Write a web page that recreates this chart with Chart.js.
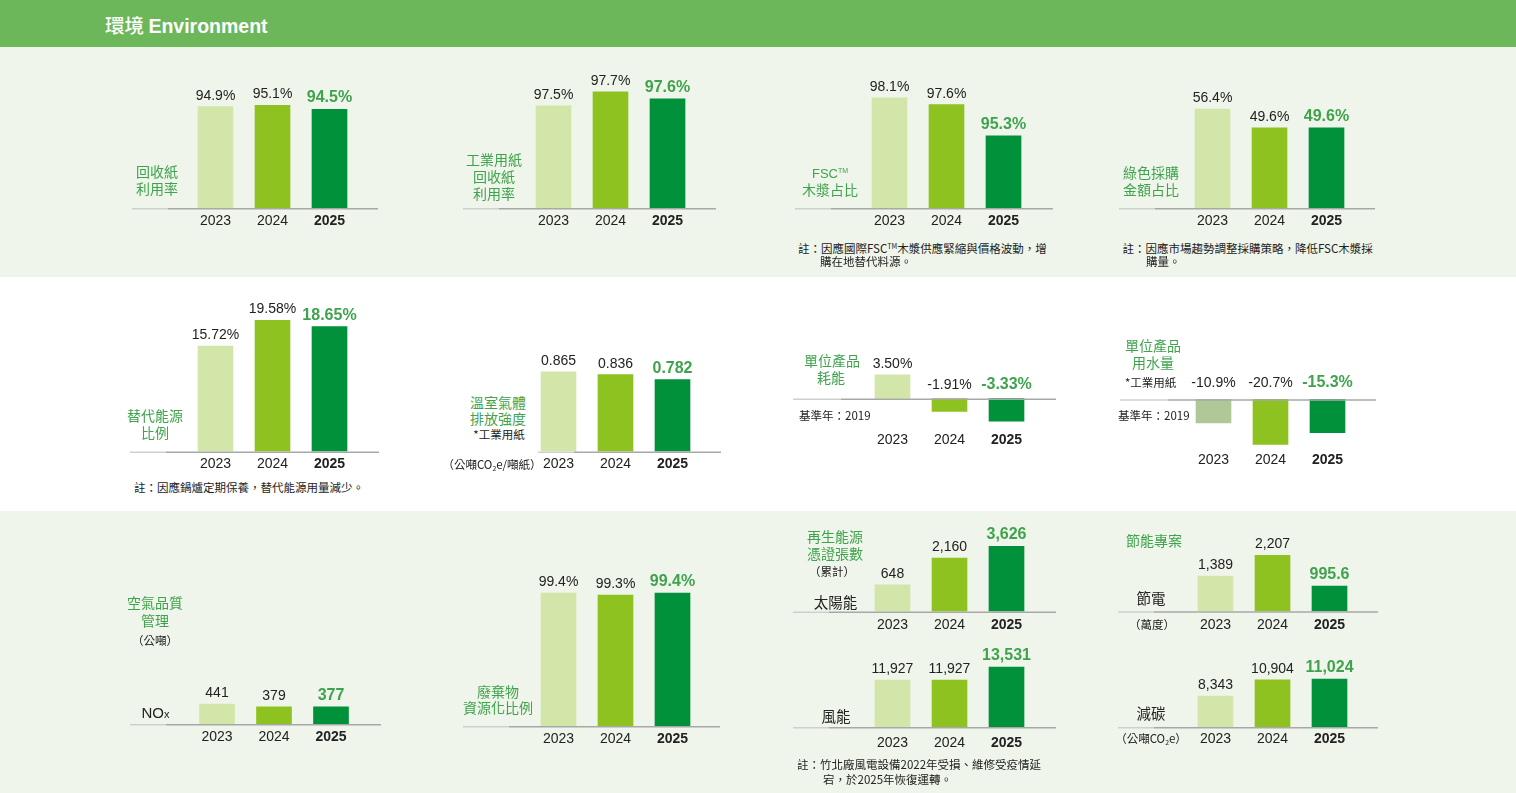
<!DOCTYPE html>
<html><head><meta charset="utf-8">
<script src="https://cdn.jsdelivr.net/npm/chart.js@4.4.1/dist/chart.umd.min.js"></script>
<style>
html,body{margin:0;padding:0;}
body{width:1516px;height:793px;position:relative;overflow:hidden;background:#fff;font-family:"Noto Sans CJK TC","Noto Sans CJK SC","Liberation Sans",sans-serif;}
.band{position:absolute;left:0;width:1516px;}
.t{position:absolute;white-space:nowrap;line-height:1;}
.g{color:#3fa34d;font-size:14px;}
.k{color:#222;}
.s{font-size:11.5px;color:#222;}
.m{font-size:14.5px;color:#222;}
canvas{position:absolute;}
sub{font-size:0.6em;vertical-align:-0.25em;line-height:0;}
</style></head><body>
<div class="band" style="top:0;height:47px;background:#6cb75a"></div>
<div class="band" style="top:47px;height:230px;background:#eff5ea"></div>
<div class="band" style="top:511px;height:282px;background:#eff5ea"></div>
<div class="t" style="left:105px;top:25.5px;transform:translateY(-50%);color:#fff;font-size:19.5px;"><span style="font-weight:500">環境</span> <span style="font-family:'Liberation Sans',Arial,sans-serif;font-weight:bold">Environment</span></div>
<script>
// ---------- data ----------
const years = ['2023', '2024', '2025'];
const recycledPaperRate = [94.9, 95.1, 94.5];
const industrialRecycledRate = [97.5, 97.7, 97.6];
const fscPulpShare = [98.1, 97.6, 95.3];
const greenPurchaseShare = [56.4, 49.6, 49.6];
const altEnergyShare = [15.72, 19.58, 18.65];
const ghgIntensity = [0.865, 0.836, 0.782];
const energyPerUnit = [3.50, -1.91, -3.33];
const waterPerUnit = [-10.9, -20.7, -15.3];
const noxTons = [441, 379, 377];
const wasteRecycleRate = [99.4, 99.3, 99.4];
const solarCerts = [648, 2160, 3626];
const windCerts = [11927, 11927, 13531];
const powerSaved = [1389, 2207, 995.6];
const carbonReduced = [8343, 10904, 11024];

// ---------- style ----------
const NUM = '"Liberation Sans", Arial, Helvetica, sans-serif';
const GREEN_TXT = '#3fa34d';
const BAR = ['#d3e6aa', '#8dc220', '#00913a'];
const BAR_WATER = ['#b0c898', '#8dc220', '#00913a'];

function addChart(spec, values, colors) {
  const step = 57;
  const areaL = spec.c0 - step / 2;
  const areaR = spec.c0 + step * (values.length - 1) + step / 2;
  const left = Math.floor(Math.min(spec.x0, areaL)) - 4;
  const right = Math.ceil(Math.max(spec.x1, areaR)) + 4;
  const W = right - left;
  const p = spec.lab - spec.bottom - 8.4;
  const axisH = 16.8 + 2 * p;
  const top = Math.floor(spec.bottom - spec.areaH - 32);
  const padTop = spec.bottom - spec.areaH - top;
  const H = Math.ceil(padTop + spec.areaH + axisH) + 1;
  const padBottom = H - padTop - spec.areaH - axisH;
  const cv = document.createElement('canvas');
  cv.width = W; cv.height = H;
  cv.style.left = left + 'px'; cv.style.top = top + 'px';
  cv.style.width = W + 'px'; cv.style.height = H + 'px';
  document.body.appendChild(cv);
  const yMin = spec.min;
  const yMax = spec.log ? Math.pow(10, Math.log10(spec.min) + spec.areaH / spec.k)
                        : spec.min + spec.areaH / spec.ppu;
  const fmt = v => v.toLocaleString('en-US', {minimumFractionDigits: spec.dmin, maximumFractionDigits: spec.dmax}) + (spec.suf || '');
  const lx0 = spec.x0 - left, lx1 = spec.x1 - left, light = spec.light ?? 36;
  const axisLine = {
    id: 'axisLine',
    afterDatasetsDraw(chart) {
      const ys = chart.scales.y;
      const py = (ys.min < 0 ? ys.getPixelForValue(0) : chart.chartArea.bottom) + 0.75;
      const ctx = chart.ctx;
      ctx.save();
      ctx.lineWidth = 1.5;
      ctx.strokeStyle = '#cfcfcf';
      ctx.beginPath(); ctx.moveTo(lx0, py); ctx.lineTo(lx0 + light, py); ctx.stroke();
      ctx.strokeStyle = '#a8a8a8';
      ctx.beginPath(); ctx.moveTo(lx0 + light, py); ctx.lineTo(lx1, py); ctx.stroke();
      ctx.restore();
    }
  };
  const valueLabels = {
    id: 'valueLabels',
    afterDatasetsDraw(chart) {
      const ctx = chart.ctx;
      const meta = chart.getDatasetMeta(0);
      const data = chart.data.datasets[0].data;
      meta.data.forEach((bar, i) => {
        const v = data[i];
        const last = i === data.length - 1;
        ctx.save();
        ctx.font = (last ? 'bold 16px ' : '14px ') + NUM;
        ctx.fillStyle = last ? GREEN_TXT : '#222';
        ctx.textAlign = 'center';
        ctx.textBaseline = 'alphabetic';
        const y = v >= 0 ? bar.y - (spec.off ?? 7) : bar.base - (spec.negOff ?? 10);
        ctx.fillText(fmt(v), bar.x, y);
        ctx.restore();
      });
    }
  };
  new Chart(cv, {
    type: 'bar',
    data: {labels: years, datasets: [{data: values, backgroundColor: colors || BAR, barThickness: 35, borderWidth: 0}]},
    options: {
      responsive: false, animation: false, events: [],
      layout: {padding: {left: areaL - left, right: right - areaR, top: padTop, bottom: padBottom}},
      plugins: {legend: {display: false}, tooltip: {enabled: false}},
      scales: {
        x: {grid: {display: false, drawTicks: false}, border: {display: false},
            ticks: {padding: p, color: '#222', font: c => ({family: NUM, size: 14, weight: c.index === 2 ? 'bold' : 'normal'})}},
        y: {type: spec.log ? 'logarithmic' : 'linear', display: false, min: yMin, max: yMax}
      }
    },
    plugins: [axisLine, valueLabels]
  });
}

function T(x, y, html, cls, align) {
  const d = document.createElement('div');
  d.className = 't ' + cls;
  d.innerHTML = html;
  d.style.left = x + 'px';
  d.style.top = y + 'px';
  d.style.transform = align === 'l' ? 'translateY(-50%)' : 'translate(-50%,-50%)';
  document.body.appendChild(d);
}

// ---------- charts ----------
addChart({x0:132, x1:378, c0:215.5, bottom:208, lab:221, min:79.7, ppu:6.67, areaH:130, dmin:1, dmax:1, suf:'%'}, recycledPaperRate);
addChart({x0:463, x1:716, c0:553.5, bottom:208, lab:221, min:96.04, ppu:70, areaH:130, dmin:1, dmax:1, suf:'%'}, industrialRecycledRate);
addChart({x0:795, x1:1053, c0:889.5, bottom:208, lab:221.5, min:90, ppu:13.6, areaH:130, dmin:1, dmax:1, suf:'%'}, fscPulpShare);
addChart({x0:1119, x1:1375, c0:1212.5, bottom:208, lab:221, min:20.9, ppu:2.79, areaH:130, dmin:1, dmax:1, suf:'%'}, greenPurchaseShare);

addChart({x0:130, x1:379, c0:215.5, bottom:451.5, lab:464, min:0, ppu:6.7, areaH:140, dmin:2, dmax:2, suf:'%'}, altEnergyShare);
addChart({x0:538, x1:721, c0:558.5, bottom:451.5, lab:464, min:0, ppu:92, areaH:120, dmin:3, dmax:3, suf:''}, ghgIntensity);
addChart({x0:793, x1:1056, c0:892.5, bottom:427, lab:440, min:-4.19, ppu:6.8, areaH:70, dmin:2, dmax:2, suf:'%', negOff:9.5, light:48}, energyPerUnit);
addChart({x0:1120, x1:1376, c0:1213.5, bottom:447, lab:460, min:-21.9, ppu:2.18, areaH:80, dmin:1, dmax:1, suf:'%', negOff:12, light:48}, waterPerUnit, BAR_WATER);

addChart({x0:130, x1:381, c0:217, bottom:724, lab:736.7, min:0, ppu:0.0453, areaH:120, dmin:0, dmax:0, suf:''}, noxTons);
addChart({x0:463, x1:720, c0:558.5, bottom:726, lab:739, min:92.75, ppu:20, areaH:160, dmin:1, dmax:1, suf:'%', light:46}, wasteRecycleRate);
addChart({x0:793, x1:1056, c0:892.5, bottom:611.5, lab:625, log:true, min:195, k:51.26, areaH:80, dmin:0, dmax:0, suf:''}, solarCerts);
addChart({x0:793, x1:1056, c0:892.5, bottom:727, lab:743, min:6124, ppu:0.0081, areaH:80, dmin:0, dmax:0, suf:''}, windCerts);
addChart({x0:1118, x1:1378, c0:1215.5, bottom:611.3, lab:625, min:0, ppu:0.0254, areaH:80, dmin:0, dmax:1, suf:''}, powerSaved);
addChart({x0:1118, x1:1378, c0:1215.5, bottom:727, lab:739, min:3450, ppu:0.00634, areaH:80, dmin:0, dmax:0, suf:''}, carbonReduced);

// ---------- side labels ----------
T(157, 171, '回收紙', 'g'); T(157, 188, '利用率', 'g');
T(494, 159, '工業用紙', 'g'); T(494, 176, '回收紙', 'g'); T(494, 193, '利用率', 'g');
T(830, 172, '<span style="font-family:\'Liberation Sans\',Arial,sans-serif;font-size:13px">FSC<sup style="font-size:7px;vertical-align:5px;line-height:0">TM</sup></span>', 'g');
T(830, 189, '木漿占比', 'g');
T(1151, 172, '綠色採購', 'g'); T(1151, 189, '金額占比', 'g');
T(798, 249, '註：因應國際FSC<sup style="font-size:7px;vertical-align:4px;line-height:0">TM</sup>木漿供應緊縮與價格波動，增', 's', 'l');
T(820, 261.5, '購在地替代料源。', 's', 'l');
T(1122.5, 249, '註：因應市場趨勢調整採購策略，降低FSC木漿採', 's', 'l');
T(1146, 261.5, '購量。', 's', 'l');

T(155, 415, '替代能源', 'g'); T(155, 432, '比例', 'g');
T(134, 488, '註：因應鍋爐定期保養，替代能源用量減少。', 's', 'l');
T(498, 402, '溫室氣體', 'g'); T(498, 418, '排放強度', 'g');
T(499, 435, '*工業用紙', 's');
T(492, 465, '（公噸CO<sub>2</sub>e/噸紙）', 's');
T(832, 360, '單位產品', 'g'); T(831, 377, '耗能', 'g');
T(799, 415.5, '基準年：2019', 's', 'l');
T(1153, 345, '單位產品', 'g'); T(1153, 362, '用水量', 'g');
T(1125, 383, '*工業用紙', 's', 'l');
T(1118, 415.5, '基準年：2019', 's', 'l');

T(155, 602, '空氣品質', 'g'); T(155, 620, '管理', 'g');
T(155, 641, '（公噸）', 's');
T(141.5, 711, '<span style="font-family:\'Liberation Sans\',Arial,sans-serif;font-size:15px">NO<span style="font-size:11px">x</span></span>', 'k', 'l');
T(498, 690.5, '廢棄物', 'g'); T(498, 706.5, '資源化比例', 'g');
T(835, 536, '再生能源', 'g'); T(835, 553, '憑證張數', 'g');
T(832, 572, '（累計）', 's');
T(835.5, 601.5, '太陽能', 'm');
T(836, 716, '風能', 'm');
T(797, 765, '註：竹北廠風電設備2022年受損、維修受疫情延', 's', 'l');
T(823, 780, '宕，於2025年恢復運轉。', 's', 'l');
T(1154, 540, '節能專案', 'g');
T(1151, 598, '節電', 'm');
T(1152, 625, '（萬度）', 's');
T(1151, 713, '減碳', 'm');
T(1151, 739, '（公噸CO<sub>2</sub>e）', 's');
</script>
</body></html>
